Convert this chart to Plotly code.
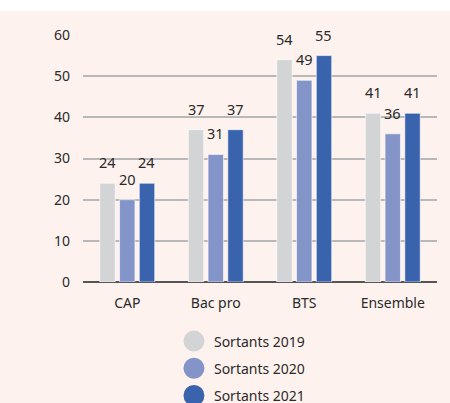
import plotly.graph_objects as go

categories = ["CAP", "Bac pro", "BTS", "Ensemble"]
series_names = ["Sortants 2019", "Sortants 2020", "Sortants 2021"]
values_2019 = [24, 37, 54, 41]
values_2020 = [20, 31, 49, 36]
values_2021 = [24, 37, 55, 41]
y_ticks = [0, 10, 20, 30, 40, 50, 60]

colors = ["#d3d4d6", "#8394c9", "#3a63ae"]
bg = "#fdf2ee"
font_family = "'Noto Sans', sans-serif"
text_color = "#2a2a2a"

all_values = [values_2019, values_2020, values_2021]

fig = go.Figure()
for name, vals, col in zip(series_names, all_values, colors):
    fig.add_trace(go.Bar(
        x=categories, y=vals, name=name, marker_color=col,
        marker_line=dict(color="rgba(255,255,255,0.6)", width=1),
        showlegend=False, hoverinfo="skip",
    ))
for name, col in zip(series_names, colors):
    fig.add_trace(go.Scatter(
        x=[None], y=[None], mode="markers", name=name, legendgroup=name,
        marker=dict(color=col, size=16, symbol="circle", line=dict(color=col, width=5)),
    ))

offsets = [-19.7, 0, 19.7]
annotations = []
for vals, dx in zip(all_values, offsets):
    for c, v in zip(categories, vals):
        annotations.append(dict(
            x=c, y=v, text=str(v), showarrow=False, xshift=dx, yshift=21,
            font=dict(size=14.5, color=text_color, family=font_family),
        ))

fig.update_layout(
    width=450, height=403,
    margin=dict(l=83, r=13, t=35, b=121, autoexpand=False),
    paper_bgcolor=bg, plot_bgcolor=bg,
    barmode="group", bargap=0.33, bargroupgap=0.22,
    font=dict(family=font_family, size=14, color=text_color),
    annotations=annotations,
    xaxis=dict(showgrid=False, showline=False, ticks="", tickfont=dict(size=14),
               ticklabelstandoff=11, automargin=False),
    yaxis=dict(range=[0, 60], tickvals=y_ticks, showgrid=True, gridcolor="#b8b8b8",
               gridwidth=1.5, zeroline=True, zerolinecolor="#555555", zerolinewidth=1.5,
               tickfont=dict(size=14), ticks="", ticklabelstandoff=12, automargin=False),
    legend=dict(x=0.449, xanchor="center", y=-0.176, yanchor="top", orientation="v",
                font=dict(size=14), bgcolor="rgba(0,0,0,0)", tracegroupgap=6,
                itemsizing="trace"),
    shapes=[dict(type="rect", xref="paper", yref="paper", x0=-0.3, x1=1.1,
                 y0=1 + 24 / 247, y1=1 + 36 / 247, fillcolor="white", line_width=0,
                 layer="above")],
)

fig.write_html("out.html", config={"displayModeBar": False},
               post_script="document.body.style.margin='0';")
